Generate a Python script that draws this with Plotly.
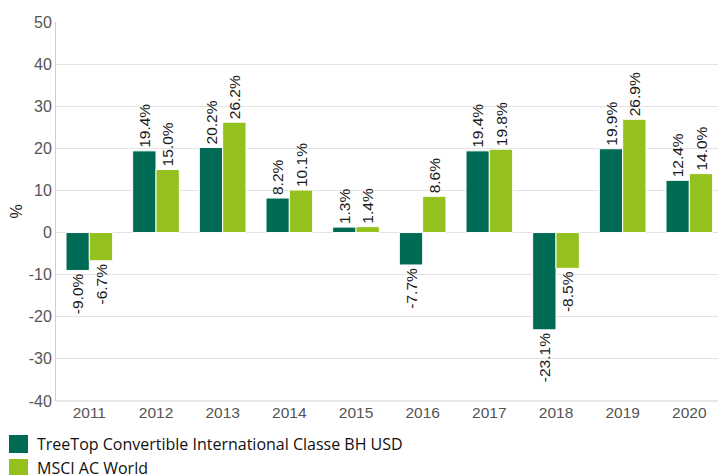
import plotly.graph_objects as go

years = ["2011", "2012", "2013", "2014", "2015", "2016", "2017", "2018", "2019", "2020"]
treetop = [-9.0, 19.4, 20.2, 8.2, 1.3, -7.7, 19.4, -23.1, 19.9, 12.4]
msci = [-6.7, 15.0, 26.2, 10.1, 1.4, 8.6, 19.8, -8.5, 26.9, 14.0]
series_names = ["TreeTop Convertible International Classe BH USD", "MSCI AC World"]
colors = ["#006B54", "#95C11F"]
ytick_vals = [-40, -30, -20, -10, 0, 10, 20, 30, 40, 50]
ytick_text = [str(v) for v in ytick_vals]

# page has an 8px body margin; plot area spans page px x 56..726, y 22..401
W, H = 718, 467
ML, MT, MB, MR = 48, 14, 74, 0
PLOT_L, PLOT_B, PLOT_W, PLOT_H = 56, 401, 670, 379

fig = go.Figure()
for name, vals, col in zip(series_names, [treetop, msci], colors):
    fig.add_trace(go.Bar(
        x=years, y=vals, name=name,
        marker=dict(color=col, line=dict(color="white", width=1)),
        text=[f"{v:.1f}%" for v in vals],
        textposition="outside", textangle=-90,
        textfont=dict(family="Liberation Sans", size=15.5, color="#1a1a1a"),
        constraintext="none", cliponaxis=False, showlegend=False,
    ))

fig.update_layout(
    width=W, height=H,
    margin=dict(l=ML, r=MR, t=MT, b=MB, autoexpand=False),
    plot_bgcolor="white", paper_bgcolor="white",
    barmode="group", bargap=0.3, bargroupgap=0.0,
    font=dict(family="Liberation Sans", color="#555"),
    xaxis=dict(showgrid=False, tickfont=dict(family="Liberation Sans", size=15.5, color="#555"),
               range=[-0.5, 9.55], ticks="", showline=False, automargin=False),
    yaxis=dict(range=[-40, 50], tickvals=ytick_vals, ticktext=ytick_text,
               showgrid=True, gridcolor="#e3e3e3",
               zeroline=True, zerolinecolor="#e3e3e3", zerolinewidth=1,
               showline=True, linecolor="#cfcfcf", linewidth=1, automargin=False,
               tickfont=dict(family="Liberation Sans", size=16, color="#555"), ticks="",
               title=dict(text="%", font=dict(family="Liberation Sans", size=16, color="#222"), standoff=14)),
)
# bottom axis line
fig.add_shape(type="line", xref="paper", yref="paper", x0=0, x1=1, y0=0, y1=0,
              line=dict(color="#cfcfcf", width=1))

# legend drawn below plot
for i, (name, col) in enumerate(zip(series_names, colors)):
    yc = 444 + 24 * i
    fig.add_shape(type="rect", xref="paper", yref="paper",
                  x0=(9 - PLOT_L) / PLOT_W, x1=(28 - PLOT_L) / PLOT_W,
                  y0=(PLOT_B - (yc - 9)) / PLOT_H, y1=(PLOT_B - (yc + 9)) / PLOT_H,
                  fillcolor=col, line=dict(width=0))
    fig.add_annotation(text=name, xref="paper", yref="paper",
                       x=(35 - PLOT_L) / PLOT_W, y=(PLOT_B - yc) / PLOT_H,
                       xanchor="left", yanchor="middle", showarrow=False,
                       font=dict(family="Open Sans", size=16, color="#111"))

fig.write_html("out.html")
